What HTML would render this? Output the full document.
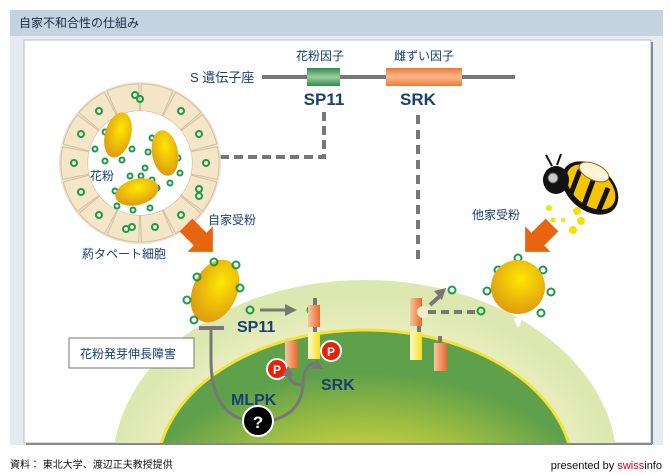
<!DOCTYPE html>
<html><head><meta charset="utf-8"><style>
html,body{margin:0;padding:0;background:#fff;width:670px;height:475px;overflow:hidden}
svg{display:block;position:absolute;left:0;top:0}
text{font-family:"Liberation Sans","Noto Sans CJK JP",sans-serif}
</style></head><body>
<svg width="670" height="475" viewBox="0 0 670 475" xmlns="http://www.w3.org/2000/svg">
<defs>
<radialGradient id="lg" cx="0.5" cy="0.55" r="0.5">
<stop offset="0" stop-color="#f6f2b0"/><stop offset="0.75" stop-color="#eef0c4"/><stop offset="1" stop-color="#dde8b0"/></radialGradient>
<radialGradient id="gg" cx="0.5" cy="0.75" r="0.6">
<stop offset="0" stop-color="#f4e23a"/><stop offset="0.45" stop-color="#d8d83a"/><stop offset="1" stop-color="#5fa04a"/></radialGradient>
<radialGradient id="pg" cx="0.55" cy="0.35" r="0.6">
<stop offset="0" stop-color="#ffe800"/><stop offset="1" stop-color="#e0a010"/></radialGradient>
<linearGradient id="og" x1="0" y1="0" x2="1" y2="0"><stop offset="0" stop-color="#f6c6a0"/><stop offset="1" stop-color="#e8682a"/></linearGradient>
<linearGradient id="yg" x1="0" y1="0" x2="1" y2="0"><stop offset="0" stop-color="#fffbd0"/><stop offset="1" stop-color="#f5e01a"/></linearGradient>
<linearGradient id="grn" x1="0" y1="0" x2="0" y2="1"><stop offset="0" stop-color="#2e8a4e"/><stop offset="0.5" stop-color="#9ccf9e"/><stop offset="1" stop-color="#2e8a4e"/></linearGradient>
<linearGradient id="org" x1="0" y1="0" x2="0" y2="1"><stop offset="0" stop-color="#f07a30"/><stop offset="0.5" stop-color="#f8b890"/><stop offset="1" stop-color="#f07a30"/></linearGradient>
<path id="cell" d="M50.9,-11.2 L77.4,-16.2 A79 79 0 0 1 77.4,16.2 L50.9,11.2 A52 52 0 0 0 50.9,-11.2 Z" fill="#f6e6c8" stroke="#d2c09c" stroke-width="1"/>
<clipPath id="ic"><rect x="24" y="40" width="627" height="403"/></clipPath>
</defs>
<rect x="10" y="10" width="653" height="435" fill="#e6ebf1"/>
<rect x="10" y="10" width="653" height="26" fill="#c5d2e0"/>
<text x="19" y="27" font-size="12" fill="#1a2a40">自家不和合性の仕組み</text>
<rect x="24" y="40" width="627" height="403" fill="#fff" stroke="#b5bdc8"/>
<line x1="652" y1="42" x2="652" y2="444" stroke="#888" stroke-width="2"/>
<line x1="26" y1="444" x2="652" y2="444" stroke="#888" stroke-width="2"/>
<g clip-path="url(#ic)">
<ellipse cx="365" cy="465" rx="252" ry="185" fill="url(#lg)"/>
<ellipse cx="365" cy="472" rx="208" ry="142" fill="url(#gg)" stroke="#f3e23a" stroke-width="3"/>
</g>
<line x1="262" y1="77" x2="515" y2="77" stroke="#777" stroke-width="4"/>
<rect x="307" y="68" width="33" height="18" fill="url(#grn)"/>
<rect x="386" y="68" width="76" height="18" fill="url(#org)"/>
<text x="320" y="60" font-size="12" fill="#1a3f73" text-anchor="middle">花粉因子</text>
<text x="424" y="60" font-size="12" fill="#1a3f73" text-anchor="middle">雌ずい因子</text>
<text x="190" y="82" font-size="13" fill="#1a3f73">S 遺伝子座</text>
<text x="324" y="105" font-size="17" font-weight="bold" fill="#1a3f73" text-anchor="middle">SP11</text>
<text x="418" y="105" font-size="17" font-weight="bold" fill="#1a3f73" text-anchor="middle">SRK</text>
<path d="M324,112 V157 H220" fill="none" stroke="#777" stroke-width="4" stroke-dasharray="9,5"/>
<line x1="418" y1="115" x2="418" y2="265" stroke="#777" stroke-width="4" stroke-dasharray="9,6"/>
<g transform="translate(140,163)">
<circle r="81" fill="#eae4d6"/>
<g>
<use href="#cell" transform="rotate(0)"/><use href="#cell" transform="rotate(25.7)"/><use href="#cell" transform="rotate(51.4)"/><use href="#cell" transform="rotate(77.1)"/><use href="#cell" transform="rotate(102.8)"/><use href="#cell" transform="rotate(128.5)"/><use href="#cell" transform="rotate(154.2)"/><use href="#cell" transform="rotate(180)"/><use href="#cell" transform="rotate(205.7)"/><use href="#cell" transform="rotate(231.4)"/><use href="#cell" transform="rotate(257.1)"/><use href="#cell" transform="rotate(282.8)"/><use href="#cell" transform="rotate(308.5)"/><use href="#cell" transform="rotate(334.2)"/>
</g>
<circle r="52" fill="#fff"/>
<g fill="none" stroke="#1a9a4a" stroke-width="2">
<circle cx="66" cy="0" r="3"/><circle cx="59" cy="26" r="3"/><circle cx="59" cy="33" r="3"/><circle cx="41" cy="52" r="3"/><circle cx="15" cy="64" r="3"/><circle cx="-8" cy="64" r="3"/><circle cx="-14" cy="66" r="3"/><circle cx="-41" cy="52" r="3"/><circle cx="-59" cy="29" r="3"/><circle cx="-66" cy="0" r="3"/><circle cx="-59" cy="-29" r="3"/><circle cx="-41" cy="-52" r="3"/><circle cx="-5" cy="-68" r="3"/><circle cx="0" cy="-64" r="3"/><circle cx="41" cy="-52" r="3"/><circle cx="59" cy="-29" r="3"/>
<circle cx="-35" cy="-31" r="2.5"/><circle cx="-12" cy="-34" r="2.5"/><circle cx="-45" cy="-14" r="2.5"/><circle cx="-8" cy="-14" r="2.5"/><circle cx="-35" cy="-2" r="2.5"/><circle cx="-18" cy="-3" r="2.5"/>
<circle cx="12" cy="-25" r="2.5"/><circle cx="31" cy="-18" r="2.5"/><circle cx="8" cy="-11" r="2.5"/><circle cx="38" cy="-5" r="2.5"/><circle cx="5" cy="5" r="2.5"/><circle cx="40" cy="10" r="2.5"/><circle cx="12" cy="17" r="2.5"/><circle cx="30" cy="20" r="2.5"/>
<circle cx="-10" cy="13" r="2.5"/><circle cx="1" cy="13" r="2.5"/><circle cx="-25" cy="28" r="2.5"/><circle cx="17" cy="25" r="2.5"/><circle cx="-23" cy="43" r="2.5"/><circle cx="-7" cy="47" r="2.5"/><circle cx="10" cy="45" r="2.5"/>
</g>
<ellipse cx="-22" cy="-28" rx="13" ry="23" transform="rotate(15 -22 -28)" fill="url(#pg)"/>
<ellipse cx="25" cy="-10" rx="13" ry="23" transform="rotate(-10 25 -10)" fill="url(#pg)"/>
<ellipse cx="-3" cy="29" rx="22" ry="13" transform="rotate(-15 -3 29)" fill="url(#pg)"/>
</g>
<text x="90" y="180" font-size="12" fill="#1a3f73">花粉</text>
<text x="82" y="258" font-size="12" fill="#1a3f73">葯タペート細胞</text>
<text x="208" y="224" font-size="12" fill="#1a3f73">自家受粉</text>
<text x="472" y="219" font-size="12" fill="#1a3f73">他家受粉</text>
<path d="M0,-9 H20 V-18 L38,0 L20,18 V9 H0 Z" fill="#e8650f" transform="translate(186,225) rotate(45)"/>
<path d="M0,-9 H20 V-18 L38,0 L20,18 V9 H0 Z" fill="#e8650f" transform="translate(552,225) rotate(135)"/>
<g>
<ellipse cx="590" cy="188" rx="32" ry="22" transform="rotate(40 590 188)" fill="#111"/>
<ellipse cx="591" cy="187" rx="28" ry="18" transform="rotate(40 591 187)" fill="#f6c400"/>
<path d="M580,170 L570,196 M594,178 L584,205 M608,188 L598,212" stroke="#111" stroke-width="5"/>
<ellipse cx="594" cy="172" rx="16" ry="8" transform="rotate(25 594 172)" fill="#fff4d8" stroke="#a06010"/>
<ellipse cx="556" cy="180" rx="13" ry="14" fill="#111"/>
<circle cx="553" cy="178" r="5" fill="#ccc" stroke="#555"/>
<path d="M552,166 L546,155 M557,165 L561,154" stroke="#111" stroke-width="2"/>
<circle cx="549" cy="208" r="3" fill="#f5e000"/><circle cx="553" cy="220" r="2.5" fill="#f5e000"/><circle cx="563" cy="220" r="2" fill="#f5e000"/><circle cx="577" cy="211" r="4" fill="#f5e000"/><circle cx="581" cy="221" r="4" fill="#f5e000"/><circle cx="573" cy="230" r="4" fill="#f5e000"/>
</g>
<ellipse cx="215" cy="291" rx="22" ry="33" transform="rotate(25 215 291)" fill="url(#pg)"/>
<g fill="none" stroke="#1a9a4a" stroke-width="2">
<circle cx="214" cy="262" r="3.5"/><circle cx="236" cy="265" r="3.5"/><circle cx="197" cy="277" r="3.5"/><circle cx="240" cy="288" r="3.5"/><circle cx="187" cy="300" r="3.5"/><circle cx="194" cy="320" r="3.5"/><circle cx="250" cy="310" r="3.5"/><circle cx="311" cy="310" r="3.5"/>
<circle cx="487" cy="291" r="3.5"/><circle cx="518" cy="258" r="3.5"/><circle cx="498" cy="270" r="3.5"/><circle cx="543" cy="270" r="3.5"/><circle cx="551" cy="292" r="3.5"/><circle cx="541" cy="313" r="3.5"/><circle cx="481" cy="311" r="3.5"/><circle cx="452" cy="290" r="3.5"/>
</g>
<path d="M514,318 Q518,336 522,318 Z" fill="#fff"/>
<circle cx="518" cy="287" r="27" fill="url(#pg)"/>
<line x1="260" y1="310" x2="287" y2="310" stroke="#777" stroke-width="3"/>
<path d="M285,304 L297,310 L285,316 Z" fill="#777"/>
<text x="237" y="332" font-size="16" font-weight="bold" fill="#1a3f73">SP11</text>
<rect x="313" y="298" width="4" height="8" fill="#777"/>
<rect x="308" y="305" width="12" height="22" fill="url(#og)"/>
<rect x="313" y="327" width="4" height="5" fill="#777"/>
<rect x="308" y="332" width="12" height="27" fill="url(#yg)"/>
<rect x="285" y="341" width="13" height="27" fill="url(#og)"/>
<circle cx="331" cy="351" r="10" fill="#e8200a" stroke="#fff" stroke-width="2"/><text x="331" y="356" font-size="12" font-weight="bold" fill="#fff" text-anchor="middle">P</text>
<circle cx="277" cy="369" r="10" fill="#e8200a" stroke="#fff" stroke-width="2"/><text x="277" y="374" font-size="12" font-weight="bold" fill="#fff" text-anchor="middle">P</text>
<rect x="410" y="298" width="12" height="28" fill="url(#og)"/>
<circle cx="423" cy="312" r="6" fill="#f2efc8"/>
<rect x="417" y="326" width="4" height="6" fill="#777"/>
<rect x="410" y="332" width="12" height="28" fill="url(#yg)"/>
<rect x="438" y="336" width="4" height="8" fill="#777"/>
<rect x="434" y="343" width="13" height="28" fill="url(#og)"/>
<path d="M428,312 H475" stroke="#777" stroke-width="4" stroke-dasharray="8,5"/>
<path d="M430,305 L440,296" stroke="#777" stroke-width="4"/>
<path d="M434,291 L446,288 L442,300 Z" fill="#777"/>
<line x1="199" y1="328" x2="224" y2="328" stroke="#777" stroke-width="4"/>
<path d="M211,328 V360 Q211,420 258,422 Q300,420 303,385 M303,385 Q303,363 317,363 M303,385 Q290,385 288,372" fill="none" stroke="#777" stroke-width="3"/>
<path d="M311,369 L317,359 L323,369 Z" fill="#777"/>
<path d="M282,376 L288,366 L294,376 Z" fill="#777"/>
<circle cx="258" cy="421" r="15" fill="#000" stroke="#fff" stroke-width="2"/>
<text x="258" y="428" font-size="17" font-weight="bold" fill="#fff" text-anchor="middle">?</text>
<text x="231" y="405" font-size="16" font-weight="bold" fill="#1a3f73">MLPK</text>
<text x="321" y="390" font-size="16" font-weight="bold" fill="#1a3f73">SRK</text>
<rect x="69" y="338" width="125" height="30" fill="#fff" stroke="#777"/>
<text x="80" y="358" font-size="12" fill="#1a3f73">花粉発芽伸長障害</text>
<text x="10" y="468" font-size="10" fill="#111">資料： 東北大学、渡辺正夫教授提供</text>
<text x="662" y="469" font-size="11" fill="#111" text-anchor="end">presented by <tspan fill="#e2001a">swiss</tspan>info</text>
</svg>
</body></html>
